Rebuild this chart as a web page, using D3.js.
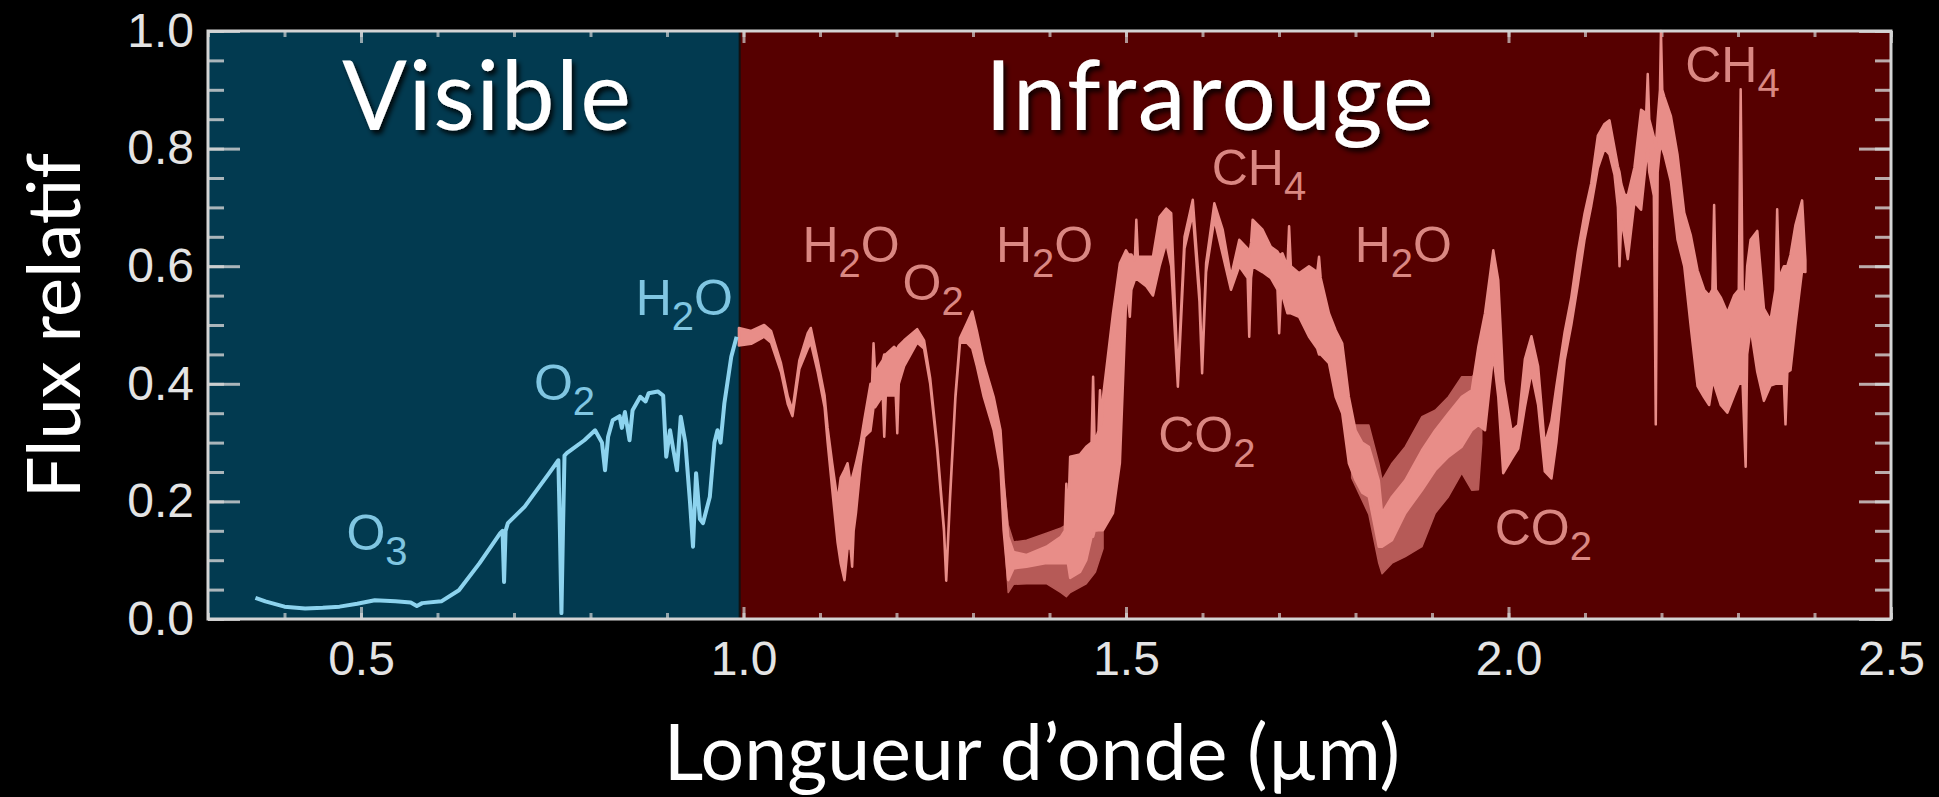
<!DOCTYPE html>
<html>
<head>
<meta charset="utf-8">
<script src="https://cdn.jsdelivr.net/npm/d3@7"></script>
<style>
  html, body { margin: 0; background: #000; }
  svg { display: block; }
</style>
</head>
<body>
<svg id="chart" width="1939" height="797"></svg>
<script>
// tick labels of both axes
var xTicks = [0.5, 1.0, 1.5, 2.0, 2.5];
var yTicks = [0.0, 0.2, 0.4, 0.6, 0.8, 1.0];

// the two spectral domains: names, edges (µm) and where their titles sit (µm)
var bandNames = ["Visible", "Infrarouge"];
var bandEdges = [0.3, 0.995, 2.5];
var bandTitleAt = [0.665, 1.61];

// visible spectrum: [wavelength µm, relative flux]
var visibleFlux = [
  [0.362, 0.036], [0.375, 0.030], [0.400, 0.021], [0.427, 0.018], [0.450, 0.019], [0.472, 0.021],
  [0.495, 0.026], [0.518, 0.032], [0.545, 0.030], [0.565, 0.028], [0.573, 0.022], [0.580, 0.027],
  [0.605, 0.030], [0.628, 0.049], [0.655, 0.095], [0.682, 0.146], [0.685, 0.150], [0.687, 0.063],
  [0.689, 0.150], [0.692, 0.163], [0.714, 0.191], [0.746, 0.248], [0.758, 0.270], [0.760, 0.150],
  [0.762, 0.010], [0.764, 0.150], [0.766, 0.278], [0.769, 0.282], [0.792, 0.304], [0.806, 0.321],
  [0.815, 0.300], [0.819, 0.253], [0.823, 0.310], [0.829, 0.338], [0.838, 0.345], [0.841, 0.325],
  [0.845, 0.352], [0.851, 0.304], [0.855, 0.355], [0.865, 0.378], [0.872, 0.370], [0.876, 0.384],
  [0.888, 0.387], [0.895, 0.380], [0.899, 0.276], [0.904, 0.321], [0.908, 0.290], [0.913, 0.253],
  [0.918, 0.344], [0.924, 0.300], [0.930, 0.200], [0.934, 0.123], [0.938, 0.248], [0.943, 0.170],
  [0.947, 0.163], [0.956, 0.208], [0.962, 0.300], [0.966, 0.321], [0.970, 0.300], [0.975, 0.367],
  [0.984, 0.446], [0.991, 0.480]
];

// infrared spectrum: [wavelength µm, low flux, high flux] of the noisy trace
var infraredFlux = [
  [0.994, 0.465, 0.495], [1.010, 0.468, 0.490], [1.027, 0.480, 0.500], [1.036, 0.470, 0.490],
  [1.049, 0.420, 0.435], [1.058, 0.365, 0.378], [1.064, 0.345, 0.355], [1.073, 0.425, 0.440],
  [1.084, 0.460, 0.486], [1.088, 0.470, 0.495], [1.097, 0.420, 0.440], [1.106, 0.360, 0.380],
  [1.110, 0.300, 0.325], [1.116, 0.220, 0.265], [1.123, 0.130, 0.200], [1.127, 0.095, 0.240],
  [1.132, 0.066, 0.253], [1.136, 0.120, 0.265], [1.140, 0.120, 0.230], [1.142, 0.089, 0.240],
  [1.144, 0.150, 0.250], [1.147, 0.180, 0.265], [1.153, 0.260, 0.300], [1.158, 0.310, 0.340],
  [1.166, 0.320, 0.400], [1.168, 0.340, 0.400], [1.170, 0.360, 0.469], [1.172, 0.360, 0.420],
  [1.182, 0.380, 0.440], [1.184, 0.310, 0.450], [1.186, 0.380, 0.450], [1.197, 0.380, 0.463],
  [1.199, 0.380, 0.460], [1.201, 0.316, 0.460], [1.203, 0.400, 0.465], [1.210, 0.430, 0.474],
  [1.227, 0.470, 0.493], [1.236, 0.460, 0.474], [1.244, 0.400, 0.410], [1.253, 0.290, 0.298],
  [1.262, 0.150, 0.155], [1.265, 0.065, 0.070], [1.270, 0.205, 0.210], [1.277, 0.375, 0.380],
  [1.283, 0.470, 0.478], [1.292, 0.470, 0.503], [1.299, 0.460, 0.523], [1.305, 0.430, 0.490],
  [1.314, 0.378, 0.435], [1.327, 0.321, 0.378], [1.336, 0.253, 0.321], [1.340, 0.151, 0.236],
  [1.346, 0.066, 0.140], [1.353, 0.086, 0.114], [1.370, 0.089, 0.109], [1.396, 0.095, 0.123],
  [1.415, 0.095, 0.140], [1.420, 0.095, 0.150], [1.422, 0.095, 0.230], [1.424, 0.095, 0.160],
  [1.427, 0.070, 0.276], [1.440, 0.080, 0.280], [1.448, 0.100, 0.293], [1.455, 0.140, 0.300],
  [1.457, 0.140, 0.412], [1.459, 0.150, 0.300], [1.464, 0.151, 0.320], [1.466, 0.151, 0.389],
  [1.468, 0.151, 0.330], [1.470, 0.151, 0.378], [1.483, 0.180, 0.520], [1.492, 0.265, 0.605],
  [1.500, 0.537, 0.627], [1.503, 0.540, 0.620], [1.505, 0.514, 0.620], [1.507, 0.560, 0.620],
  [1.5115, 0.577, 0.610], [1.5135, 0.577, 0.679], [1.5155, 0.577, 0.616], [1.5266, 0.566, 0.616],
  [1.5352, 0.550, 0.616], [1.5439, 0.600, 0.684], [1.5526, 0.640, 0.698], [1.5591, 0.600, 0.690],
  [1.5678, 0.395, 0.410], [1.5765, 0.630, 0.650], [1.5873, 0.690, 0.713], [1.5960, 0.540, 0.560],
  [1.5995, 0.418, 0.430], [1.6047, 0.590, 0.605], [1.6155, 0.680, 0.707], [1.6264, 0.620, 0.662],
  [1.6372, 0.560, 0.582], [1.6481, 0.600, 0.645], [1.6590, 0.580, 0.630], [1.6611, 0.480, 0.620],
  [1.6635, 0.580, 0.640], [1.6655, 0.600, 0.679], [1.6785, 0.590, 0.662], [1.6893, 0.580, 0.633],
  [1.6980, 0.560, 0.625], [1.7002, 0.486, 0.620], [1.7025, 0.550, 0.620], [1.7045, 0.550, 0.622],
  [1.7110, 0.520, 0.600], [1.7132, 0.520, 0.668], [1.7155, 0.520, 0.600], [1.7262, 0.514, 0.588],
  [1.7392, 0.480, 0.600], [1.7500, 0.460, 0.590], [1.7523, 0.450, 0.616], [1.7545, 0.450, 0.580],
  [1.7653, 0.435, 0.520], [1.7740, 0.378, 0.491], [1.7826, 0.350, 0.469], [1.7913, 0.265, 0.378],
  [1.8000, 0.236, 0.321], [1.8087, 0.215, 0.300], [1.8174, 0.208, 0.293], [1.8304, 0.123, 0.236],
  [1.8347, 0.123, 0.180], [1.8477, 0.134, 0.208], [1.8651, 0.180, 0.236], [1.8868, 0.219, 0.287],
  [1.9042, 0.253, 0.321], [1.9215, 0.276, 0.350], [1.9389, 0.293, 0.378], [1.9519, 0.321, 0.389],
  [1.9606, 0.330, 0.463], [1.9693, 0.321, 0.520], [1.9801, 0.450, 0.627], [1.9866, 0.378, 0.576],
  [1.9931, 0.248, 0.406], [2.0040, 0.272, 0.320], [2.0127, 0.290, 0.330], [2.0214, 0.360, 0.442],
  [2.0300, 0.420, 0.481], [2.0387, 0.364, 0.430], [2.0474, 0.251, 0.297], [2.0561, 0.239, 0.336],
  [2.0626, 0.300, 0.396], [2.0734, 0.440, 0.488], [2.0821, 0.500, 0.547], [2.0908, 0.570, 0.626],
  [2.0995, 0.646, 0.690], [2.1082, 0.703, 0.741], [2.1168, 0.767, 0.822], [2.1255, 0.800, 0.842],
  [2.1320, 0.790, 0.848], [2.1386, 0.755, 0.801], [2.1430, 0.700, 0.770], [2.1451, 0.600, 0.760],
  [2.1475, 0.680, 0.740], [2.1516, 0.650, 0.722], [2.1559, 0.612, 0.720], [2.1646, 0.709, 0.768],
  [2.1733, 0.696, 0.866], [2.1800, 0.780, 0.860], [2.1820, 0.800, 0.927], [2.1840, 0.760, 0.850],
  [2.1900, 0.720, 0.820], [2.1925, 0.331, 0.800], [2.1950, 0.760, 0.850], [2.1980, 0.800, 0.900],
  [2.1993, 0.800, 1.000], [2.2010, 0.800, 0.900], [2.2037, 0.790, 0.888], [2.2123, 0.744, 0.855],
  [2.2210, 0.645, 0.789], [2.2297, 0.600, 0.691], [2.2384, 0.495, 0.652], [2.2471, 0.396, 0.593],
  [2.2557, 0.377, 0.560], [2.2623, 0.364, 0.550], [2.2665, 0.400, 0.560], [2.2688, 0.400, 0.704],
  [2.2710, 0.390, 0.560], [2.2774, 0.364, 0.547], [2.2861, 0.351, 0.521], [2.2948, 0.380, 0.550],
  [2.3010, 0.400, 0.560], [2.3035, 0.400, 0.901], [2.3060, 0.400, 0.560], [2.3100, 0.259, 0.550],
  [2.3120, 0.450, 0.600], [2.3165, 0.495, 0.645], [2.3252, 0.420, 0.660], [2.3339, 0.371, 0.528],
  [2.3425, 0.397, 0.508], [2.3490, 0.400, 0.560], [2.3512, 0.400, 0.697], [2.3535, 0.400, 0.580],
  [2.3600, 0.400, 0.600], [2.3621, 0.331, 0.600], [2.3645, 0.420, 0.600], [2.3686, 0.423, 0.619],
  [2.3751, 0.500, 0.670], [2.3838, 0.593, 0.712], [2.3881, 0.590, 0.610]
];

// wider spread of the infrared trace inside the two deep water bands
var spreadWater14 = [
  [1.338, 0.200, 0.260], [1.346, 0.045, 0.160], [1.353, 0.059, 0.131], [1.370, 0.060, 0.134],
  [1.396, 0.060, 0.146], [1.415, 0.045, 0.155], [1.422, 0.038, 0.160], [1.427, 0.045, 0.200],
  [1.448, 0.060, 0.250], [1.460, 0.080, 0.200], [1.470, 0.120, 0.200]
];
var spreadWater19 = [
  [1.795, 0.240, 0.330], [1.8174, 0.178, 0.330], [1.8304, 0.095, 0.265], [1.8347, 0.077, 0.236],
  [1.8477, 0.095, 0.265], [1.8651, 0.106, 0.293], [1.8868, 0.123, 0.344], [1.9042, 0.180, 0.355],
  [1.9215, 0.208, 0.378], [1.9389, 0.248, 0.412], [1.9519, 0.219, 0.412], [1.9606, 0.220, 0.420],
  [1.9650, 0.300, 0.400]
];

// absorbing species and where they are written: [wavelength µm, flux]
var species = ["O3", "O2", "H2O", "H2O", "O2", "H2O", "CH4", "CO2", "H2O", "CO2", "CH4"];
var speciesAt = [
  [0.481, 0.117], [0.726, 0.372], [0.859, 0.517], [1.077, 0.607], [1.208, 0.543], [1.330, 0.607],
  [1.612, 0.738], [1.542, 0.284], [1.799, 0.607], [1.982, 0.126], [2.231, 0.913]
];

var W = 1939, H = 797;
var margin = { top: 31, right: 48, bottom: 178, left: 208 };
var svg = d3.select("#chart");

var x = d3.scaleLinear().domain([0.3, 2.5]).range([margin.left, W - margin.right]);
var y = d3.scaleLinear().domain([0, 1]).range([H - margin.bottom, margin.top]);

var bandFill = ["#023a50", "#560000"];
var traceColor = ["#8dd3ee", "#e88d88"];
var labelColor = ["#80c6e2", "#da8782"];
var axisColor = "#d4d4d4";
var numFont = "'Liberation Sans', Arial, Helvetica, sans-serif";
var textFont = "Lato, 'Open Sans', sans-serif";

// drop shadow for the big slide titles
var defs = svg.append("defs");
defs.append("filter").attr("id", "shadow")
  .attr("x", "-10%").attr("y", "-10%").attr("width", "130%").attr("height", "140%")
  .append("feDropShadow")
  .attr("dx", 3).attr("dy", 4).attr("stdDeviation", 2.5)
  .attr("flood-color", "#000").attr("flood-opacity", 0.85);

// coloured panels
svg.append("g").selectAll("rect")
  .data(bandNames)
  .enter()
  .append("rect")
  .attr("x", function (d, i) { return x(bandEdges[i]) })
  .attr("y", y(1))
  .attr("width", function (d, i) { return x(bandEdges[i + 1]) - x(bandEdges[i]) })
  .attr("height", y(0) - y(1))
  .attr("fill", function (d, i) { return bandFill[i] });

svg.append("line")
  .attr("x1", x(bandEdges[1])).attr("x2", x(bandEdges[1]))
  .attr("y1", y(1)).attr("y2", y(0))
  .attr("stroke", "#111").attr("stroke-width", 2);

// ticks: minor and major, on all four sides, pointing inward
function tickStyle(g, op) {
  g.select(".domain").remove();
  g.selectAll(".tick line").attr("stroke", axisColor).attr("stroke-width", 3).attr("stroke-opacity", op);
}
var xMinor = x.ticks(22), yMinor = y.ticks(20);

svg.append("g").attr("transform", "translate(0," + y(0) + ")")
  .call(d3.axisBottom(x).tickValues(xMinor).tickSize(-6).tickFormat(""))
  .call(tickStyle, 0.7);
svg.append("g").attr("transform", "translate(0," + y(1) + ")")
  .call(d3.axisTop(x).tickValues(xMinor).tickSize(-6).tickFormat(""))
  .call(tickStyle, 0.7);
svg.append("g").attr("transform", "translate(0," + y(1) + ")")
  .call(d3.axisTop(x).tickValues(xTicks).tickSize(-12).tickFormat(""))
  .call(tickStyle, 0.7);
svg.append("g").attr("transform", "translate(" + x(2.5) + ",0)")
  .call(d3.axisRight(y).tickValues(yMinor).tickSize(-16).tickFormat(""))
  .call(tickStyle, 0.8);
svg.append("g").attr("transform", "translate(" + x(2.5) + ",0)")
  .call(d3.axisRight(y).tickValues(yTicks).tickSize(-32).tickFormat(""))
  .call(tickStyle, 0.8);
svg.append("g").attr("transform", "translate(" + x(0.3) + ",0)")
  .call(d3.axisLeft(y).tickValues(yMinor).tickSize(-16).tickFormat(""))
  .call(tickStyle, 0.8);

// labelled axes
var xAxis = svg.append("g").attr("transform", "translate(0," + y(0) + ")")
  .call(d3.axisBottom(x).tickValues(xTicks).tickSize(-12).tickPadding(22).tickFormat(d3.format(".1f")))
  .call(tickStyle, 0.7);
var yAxis = svg.append("g").attr("transform", "translate(" + x(0.3) + ",0)")
  .call(d3.axisLeft(y).tickValues(yTicks).tickSize(-32).tickPadding(14).tickFormat(d3.format(".1f")))
  .call(tickStyle, 0.8);
[xAxis, yAxis].forEach(function (g) {
  g.attr("font-family", numFont).attr("font-size", 48);
  g.selectAll(".tick text").attr("fill", "#e4e4e4");
});

// spectrum traces
var area = d3.area()
  .x(function (d) { return x(d[0]) })
  .y0(function (d) { return y(d[1]) })
  .y1(function (d) { return y(d[2]) });

[spreadWater14, spreadWater19].forEach(function (s) {
  svg.append("path").datum(s)
    .attr("d", area)
    .attr("fill", "#b65a57")
    .attr("stroke", "#b65a57").attr("stroke-width", 1.5).attr("stroke-linejoin", "round");
});

svg.append("path").datum(infraredFlux)
  .attr("d", area)
  .attr("fill", traceColor[1])
  .attr("stroke", traceColor[1]).attr("stroke-width", 2.5).attr("stroke-linejoin", "round");

svg.append("path").datum(visibleFlux)
  .attr("d", d3.line().x(function (d) { return x(d[0]) }).y(function (d) { return y(d[1]) }))
  .attr("fill", "none")
  .attr("stroke", traceColor[0]).attr("stroke-width", 4).attr("stroke-linejoin", "round");

// species labels, digits as subscripts
var lab = svg.append("g").attr("font-family", numFont);
species.forEach(function (s, i) {
  var p = speciesAt[i];
  var side = p[0] < bandEdges[1] ? 0 : 1;
  var t = lab.append("text")
    .attr("x", x(p[0])).attr("y", y(p[1]))
    .attr("fill", labelColor[side])
    .attr("font-size", 50);
  var down = false;
  s.match(/\d+|\D+/g).forEach(function (part) {
    var isSub = /\d/.test(part);
    var dy = isSub ? 15 : (down ? -15 : 0);
    t.append("tspan")
      .attr("dy", dy)
      .attr("font-size", isSub ? 40 : 50)
      .text(part);
    down = isSub;
  });
});

// frame
svg.append("rect")
  .attr("x", x(0.3)).attr("y", y(1))
  .attr("width", x(2.5) - x(0.3)).attr("height", y(0) - y(1))
  .attr("fill", "none").attr("stroke", axisColor).attr("stroke-width", 3);

// slide titles of the two domains
svg.append("g").selectAll("text")
  .data(bandNames)
  .enter()
  .append("text")
  .attr("x", function (d, i) { return x(bandTitleAt[i]) })
  .attr("y", 130)
  .attr("text-anchor", "middle")
  .attr("font-family", textFont)
  .attr("font-size", 96)
  .attr("letter-spacing", 1.5)
  .attr("fill", "#fff")
  .attr("filter", "url(#shadow)")
  .text(function (d) { return d });

// axis titles
svg.append("text")
  .attr("x", 1032).attr("y", 780)
  .attr("text-anchor", "middle")
  .attr("font-family", textFont).attr("font-size", 77)
  .attr("fill", "#fff")
  .text("Longueur d\u2019onde (\u00b5m)");

svg.append("text")
  .attr("transform", "translate(80,325.5) rotate(-90)")
  .attr("text-anchor", "middle")
  .attr("font-family", textFont).attr("font-size", 74)
  .attr("fill", "#fff")
  .text("Flux relatif");
</script>
</body>
</html>
